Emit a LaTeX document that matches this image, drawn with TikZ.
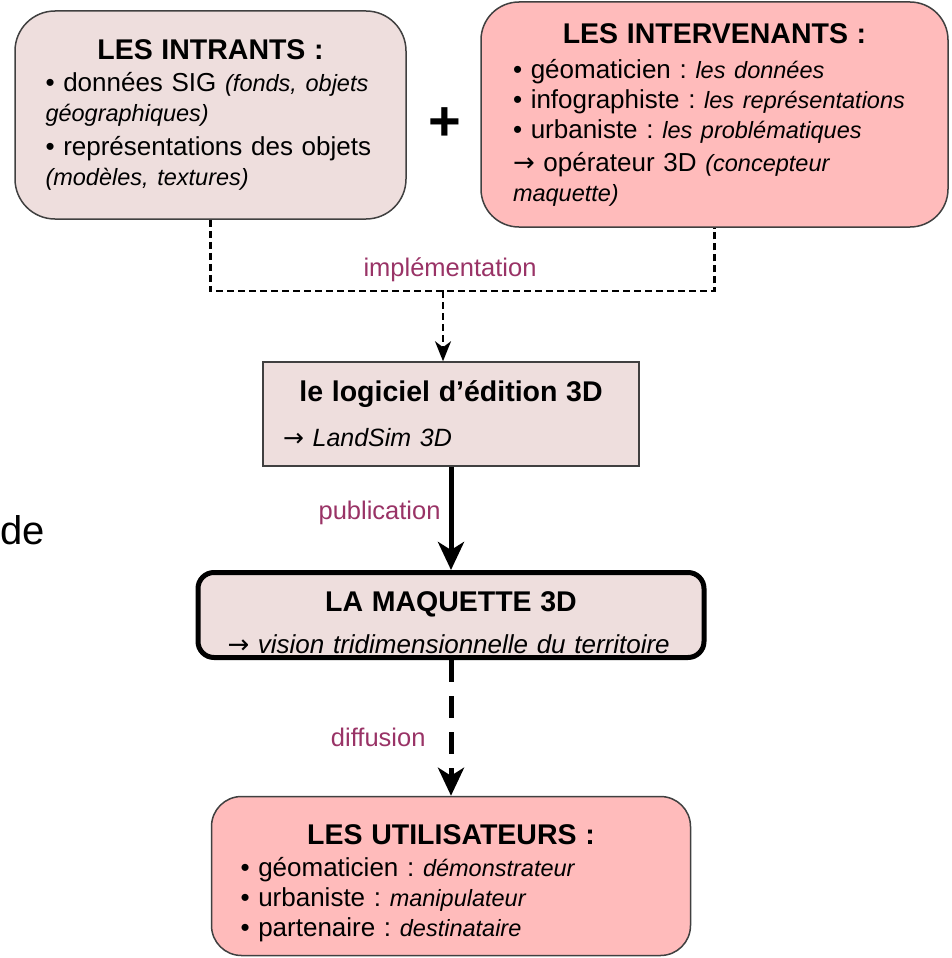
\documentclass[tikz,border=0pt]{standalone}
\usepackage{fontspec}
\setmainfont{Liberation Sans}
\newfontfamily\arrowfont{DejaVu Sans}
\usetikzlibrary{positioning,arrows.meta}
\frenchspacing

\definecolor{intrantfill}{HTML}{EEDEDD}
\definecolor{acteurfill}{HTML}{FFBBBB}
\definecolor{etiquette}{HTML}{993366}

\newcommand{\boxtitle}{\fontsize{28.5}{32}\selectfont\bfseries}
\newcommand{\bodytext}{\fontsize{26}{30}\selectfont}
\newcommand{\detail}[1]{{\fontsize{23.5}{30}\selectfont\itshape #1}}
\newcommand{\arrowsym}{{\arrowfont\upshape →}}

\begin{document}
\begin{tikzpicture}[x=1pt, y=-1pt,
  bloc/.style={draw=black!75, line width=1.5pt, inner sep=0pt, font=\bodytext},
  gris/.style={bloc, fill=intrantfill},
  rose/.style={bloc, fill=acteurfill},
  etiq/.style={text=etiquette, font=\fontsize{25.5}{28}\selectfont, inner sep=0pt},
  lien/.style={line width=2.2pt, dash pattern=on 7pt off 4pt},
  fleche/.style={line width=5pt, -{Stealth[length=28pt, width=26pt, inset=8pt]}}]
\useasboundingbox (0,0) rectangle (951,958);

\node[gris, rounded corners=40pt, minimum width=391pt, minimum height=208pt, text width=330pt] (intrants) at (210.5,115)
  {{\centering\boxtitle LES INTRANTS :\par}\vspace{2pt}
   \bodytext • données SIG \detail{(fonds, objets}\\
   \detail{géographiques)}\\[4pt]
   • représentations des objets\\
   \detail{(modèles, textures)}};
\node[font=\fontsize{56}{56}\selectfont\bfseries] (plus) at (445,124) {+};
\node[rose, rounded corners=38pt, minimum width=467pt, minimum height=225pt, text width=403pt] (intervenants) at (714.5,114.5)
  {{\centering\boxtitle LES INTERVENANTS :\par}\vspace{5pt}
   \bodytext • géomaticien : \detail{les données}\\
   • infographiste : \detail{les représentations}\\
   • urbaniste : \detail{les problématiques}\\[3pt]
   \arrowsym{} opérateur 3D \detail{(concepteur}\\
   \detail{maquette)}};

\node[gris, minimum width=376pt, minimum height=104pt, text width=336pt] (logiciel) at (451,414)
  {{\centering\boxtitle le logiciel d’édition 3D\par}\vspace{15pt}
   {\fontsize{25}{30}\selectfont\arrowsym{} \itshape LandSim 3D}};
\node[gris, draw=black, line width=5pt, rounded corners=16pt, minimum width=506pt, minimum height=85pt, text width=447pt] (maquette) at (451,615)
  {{\centering\boxtitle\rule{0pt}{36pt}LA MAQUETTE 3D\par}\vspace{12pt}
   {\fontsize{26}{30}\selectfont\arrowsym{} \itshape vision tridimensionnelle du territoire}};
\node[rose, rounded corners=30pt, minimum width=479pt, minimum height=159pt, text width=421pt] (utilisateurs) at (451,876)
  {{\centering\boxtitle\rule{0pt}{35pt}LES UTILISATEURS :\par}\vspace{2pt}
   \bodytext • géomaticien : \detail{démonstrateur}\\
   • urbaniste : \detail{manipulateur}\\
   • partenaire : \detail{destinataire}};

\node[font=\fontsize{40}{40}\selectfont] (de) at (23,530) {de};

\coordinate (jonction) at (443,291);
\draw[lien] (intrants.south) |- (jonction) -| (intervenants.south);
\draw[lien, -{Stealth[length=20pt, width=16pt, inset=6pt]}] (jonction) -- (jonction |- logiciel.north);
\node[etiq, above=9pt, xshift=7pt] (implementation) at (jonction) {implémentation};

\draw[fleche] (logiciel) -- node[etiq, pos=0.45, left=8pt] (publication) {publication} (maquette);
\draw[fleche, dash pattern=on 22pt off 14pt] (maquette) -- node[etiq, pos=0.57, left=23pt] (diffusion) {diffusion} (utilisateurs);
\end{tikzpicture}
\end{document}
